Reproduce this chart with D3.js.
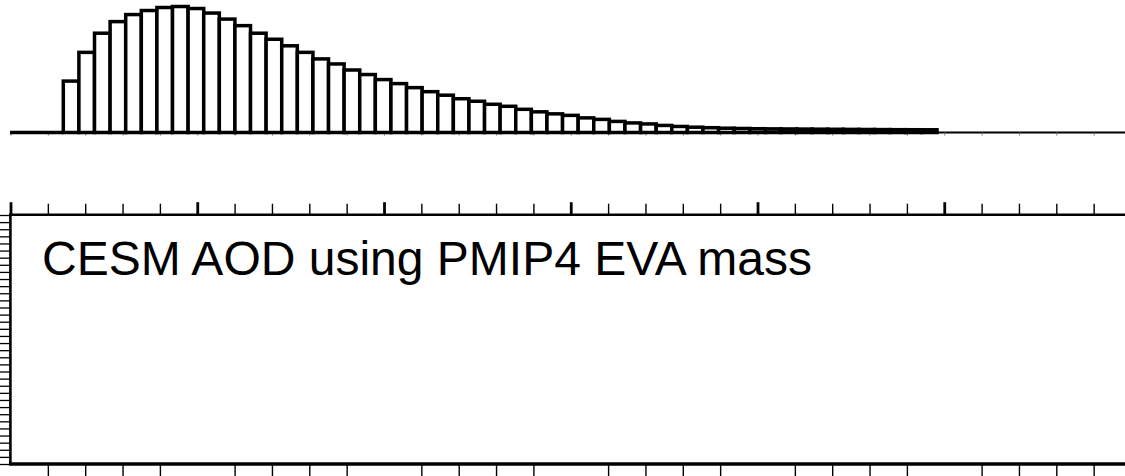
<!DOCTYPE html>
<html>
<head>
<meta charset="utf-8">
<script src="https://cdn.jsdelivr.net/npm/d3@7"></script>
<style>
  html, body { margin: 0; padding: 0; background: #fff; overflow: hidden; }
  svg { display: block; }
</style>
</head>
<body>
<svg id="chart" width="1125" height="476"></svg>
<script>
// Histogram of bin heights (upper strip)
const binValues = [
  10.2, 15.9, 19.7, 22.0, 23.4, 24.2, 24.8, 25.0, 24.6, 23.7,
  22.5, 21.2, 19.7, 18.5, 17.2, 15.9, 14.6, 13.6, 12.4, 11.5,
  10.5, 9.7, 8.9, 8.1, 7.4, 6.7, 6.2, 5.6, 5.2, 4.6,
  4.1, 3.7, 3.4, 2.9, 2.6, 2.2, 1.9, 1.7, 1.4, 1.2,
  1.05, 0.95, 0.85, 0.8, 0.75, 0.72, 0.7, 0.68, 0.66, 0.64,
  0.62, 0.6, 0.58, 0.56, 0.55, 0.54
];

// Lower panel axis ticks
const majorTicks = [0, 5, 10, 15, 20, 25, 30];
const minorTicks = d3.range(0, 31);
const levelTicks = d3.range(0, 36);
const panelTitle = "CESM AOD using PMIP4 EVA mass";

const svg = d3.select("#chart");
const black = "#000";

// Shared horizontal scale (panel extends slightly past the right edge)
const x = d3.scaleLinear().domain([0, 30]).range([10.5, 1131]);

// ---------- Upper histogram ----------
const bx = d3.scaleBand()
  .domain(d3.range(binValues.length))
  .range([63.3, 937])
  .padding(0);
const by = d3.scaleLinear().domain([0, 25]).range([132.5, 6.5]);

const hist = svg.append("g");

// baseline axis with small downward ticks
const histAxis = d3.axisBottom(x)
  .tickValues(minorTicks)
  .tickSize(3)
  .tickSizeOuter(0)
  .tickFormat("");
const ha = hist.append("g")
  .attr("transform", `translate(0,${by(0)})`)
  .call(histAxis);
ha.select(".domain").attr("stroke", black).attr("stroke-width", 2)
  .attr("d", `M10,0H1125`);
ha.selectAll(".tick line").attr("stroke", "#777").attr("stroke-width", 1);

// lead-in segment before the first bin
hist.append("line")
  .attr("x1", 10).attr("x2", bx(0))
  .attr("y1", by(0)).attr("y2", by(0))
  .attr("stroke", black).attr("stroke-width", 3.5);

hist.selectAll("rect.bin")
  .data(binValues)
  .join("rect")
  .attr("class", "bin")
  .attr("x", (d, i) => bx(i))
  .attr("width", bx.bandwidth())
  .attr("y", d => by(d))
  .attr("height", d => by(0) - by(d))
  .attr("fill", "#fff")
  .attr("stroke", black)
  .attr("stroke-width", 3.5);

// ---------- Lower panel ----------
const panelTop = 214.7, panelBottom = 464;
const yl = d3.scaleLinear().domain([0, 35]).range([215, 464]);
const panel = svg.append("g");

// top axis: major + minor ticks pointing up
const topMinor = d3.axisTop(x)
  .tickValues(minorTicks.filter(v => v % 5 !== 0))
  .tickSize(11).tickSizeOuter(0).tickFormat("");
const tm = panel.append("g").attr("transform", `translate(0,${panelTop})`).call(topMinor);
tm.select(".domain").remove();
tm.selectAll(".tick line").attr("stroke", black).attr("stroke-width", 1.4);

const topMajor = d3.axisTop(x)
  .tickValues(majorTicks)
  .tickSize(12.5).tickSizeOuter(0).tickFormat("");
const tM = panel.append("g").attr("transform", `translate(0,${panelTop})`).call(topMajor);
tM.select(".domain").remove();
tM.selectAll(".tick line").attr("stroke", black).attr("stroke-width", 2.8);

// bottom axis: minor ticks pointing down
const botMinor = d3.axisBottom(x)
  .tickValues(minorTicks.filter(v => v % 5 !== 0))
  .tickSize(16).tickSizeOuter(0).tickFormat("");
const bm = panel.append("g").attr("transform", `translate(0,${panelBottom})`).call(botMinor);
bm.select(".domain").remove();
bm.selectAll(".tick line").attr("stroke", black).attr("stroke-width", 1.4);

// left axis: dense ticks pointing outward
const leftAx = d3.axisLeft(yl)
  .tickValues(levelTicks)
  .tickSize(12).tickSizeOuter(0).tickFormat("");
const la = panel.append("g").attr("transform", `translate(10.4,0)`).call(leftAx);
la.select(".domain").remove();
la.selectAll(".tick line").attr("stroke", black).attr("stroke-width", 1.3);

// frame
panel.append("line").attr("x1", 9).attr("x2", 1131).attr("y1", panelTop).attr("y2", panelTop)
  .attr("stroke", black).attr("stroke-width", 2.6);
panel.append("line").attr("x1", 10.4).attr("x2", 10.4).attr("y1", panelTop - 1).attr("y2", panelBottom + 1)
  .attr("stroke", black).attr("stroke-width", 2.6);
panel.append("line").attr("x1", 9).attr("x2", 1131).attr("y1", panelBottom).attr("y2", panelBottom)
  .attr("stroke", black).attr("stroke-width", 3.4);

// title
panel.append("text")
  .attr("x", 42).attr("y", 275)
  .attr("font-family", "Liberation Sans, Arial, Helvetica, sans-serif")
  .attr("font-size", 48)
  .attr("fill", black)
  .text(panelTitle);
</script>
</body>
</html>
